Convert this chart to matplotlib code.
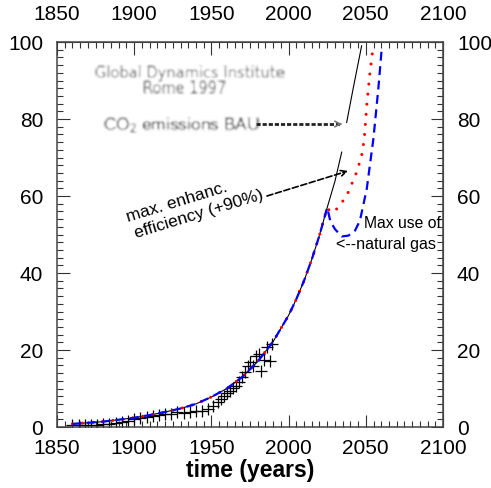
import numpy as np
import matplotlib
matplotlib.use('Agg')
import matplotlib.pyplot as plt
from matplotlib.ticker import FixedLocator

plt.rcParams['font.family'] = ['Liberation Sans', 'DejaVu Sans']
plt.rcParams['mathtext.default'] = 'regular'

# historical emissions (crosses)
hist_years = [1860, 1864, 1868, 1872, 1876, 1880, 1884, 1888, 1892, 1896,
              1900, 1904, 1908, 1912, 1916, 1920, 1924, 1928, 1932, 1936,
              1940, 1944, 1948, 1951, 1954, 1956, 1958, 1960, 1962, 1964,
              1966, 1968, 1970, 1972, 1974, 1975, 1977, 1979, 1981, 1982,
              1984, 1986, 1988, 1989]
hist_co2 = [0.4, 0.4, 0.5, 0.6, 0.6, 0.8, 0.9, 1.0, 1.2, 1.5,
            2.1, 2.3, 2.6, 2.8, 3.2, 3.3, 3.4, 3.8, 3.6, 4.0,
            4.2, 4.2, 4.8, 5.5, 6.5, 7.3, 8.1, 8.8, 9.4, 10.2,
            10.7, 11.8, 12.9, 14.2, 15.9, 16.9, 15.9, 18.5, 19.0, 14.6,
            17.5, 20.8, 17.2, 21.6]

# common model run up to 2025
base_years = [1860, 1870, 1880, 1890, 1900, 1910, 1920, 1930, 1940, 1950,
              1960, 1970, 1980, 1990, 2000, 2005, 2010, 2015, 2020, 2025]
base_co2 = [0.8, 1.1, 1.4, 1.9, 2.4, 3.1, 3.9, 4.8, 6.0, 7.8,
            10.0, 13.0, 17.0, 22.2, 29.0, 33.2, 38.0, 43.5, 49.8, 57.0]

# business as usual continuation
bau_years = [2030, 2034.4, np.nan, 2037.6, 2042, 2047.3]
bau_co2 = [63.8, 71.4, np.nan, 79.1, 88.3, 99.0]

# max. efficiency scenario
eff_years = [2027, 2029, 2033.3, 2038.7, 2044.1, 2047.3, 2049.0, 2050.6, 2052.7, 2054.2]
eff_co2 = [55.9, 55.8, 57.5, 61.0, 66.2, 70.5, 74.8, 83.5, 92.1, 96.9]

# max. natural gas scenario
gas_years = [2027, 2030.0, 2034.4, 2038.7, 2043, 2046.2, 2050.6, 2054.9, 2058.1, 2060.3]
gas_co2 = [53.5, 51.4, 49.5, 49.7, 51.0, 53.6, 61.8, 74.8, 87.8, 98.2]

year_major = [1850, 1900, 1950, 2000, 2050, 2100]
year_minor = list(range(1850, 2101, 5))
val_major = [0, 20, 40, 60, 80, 100]
val_minor = list(range(0, 101, 2))


def blur(radius):
    def f(im, dpi):
        pad = radius * 3
        a = np.pad(im, [(pad, pad), (pad, pad), (0, 0)], 'constant')
        for axis in (0, 1):
            for _ in range(2):
                acc = np.zeros_like(a)
                for s in range(-radius, radius + 1):
                    acc += np.roll(a, s, axis=axis)
                a = acc / (2 * radius + 1)
        return a, -pad, -pad
    return f


def style_ticks(axis_obj, major, minor):
    axis_obj.set_major_locator(FixedLocator(major))
    axis_obj.set_minor_locator(FixedLocator(minor))


fig = plt.figure(figsize=(4.91, 4.89), dpi=100)
ax = fig.add_axes([57 / 491, 1 - 428 / 489, 386 / 491, 385 / 489])

ax.plot(base_years + bau_years, base_co2 + bau_co2, color='black', lw=0.8, zorder=2)
ax.plot(hist_years, hist_co2, ls='none', marker='+', ms=8, mew=0.9, color='black', zorder=2)
ax.plot(base_years + eff_years, base_co2 + eff_co2, color='red', lw=2.2,
        ls=(0, (0.01, 3.3)), dash_capstyle='round', zorder=3)
ax.plot(base_years + gas_years, base_co2 + gas_co2, color='#0000ff', lw=1.6,
        ls=(0, (4, 2.5)), zorder=4)

ax.set_xlim(1850, 2100)
ax.set_ylim(0, 100)

for s in ax.spines.values():
    s.set_linewidth(1.1)
    s.set_color('#444444')

style_ticks(ax.xaxis, year_major, year_minor)
style_ticks(ax.yaxis, val_major, val_minor)
ax.tick_params(which='both', direction='in', color='#333333', width=0.8, labelsize=15)
ax.tick_params(which='major', length=9)
ax.tick_params(which='minor', length=4.5)
ax.tick_params(axis='x', pad=8)
ax.tick_params(axis='y', pad=10)

top = ax.secondary_xaxis('top')
style_ticks(top.xaxis, year_major, year_minor)
top.tick_params(which='both', direction='in', color='#333333', width=0.8, labelsize=15, pad=14)
top.tick_params(which='major', length=9)
top.tick_params(which='minor', length=4.5)
top.spines['top'].set_color('#444444')

right = ax.secondary_yaxis('right')
style_ticks(right.yaxis, val_major, val_minor)
right.tick_params(which='both', direction='in', color='#333333', width=0.8, labelsize=15, pad=10)
right.tick_params(which='major', length=9)
right.tick_params(which='minor', length=4.5)
right.spines['right'].set_color('#444444')

ax.set_xlabel('time (years)', fontsize=16.5, fontweight='bold', labelpad=1)

# institute stamp
t1 = ax.text(1936, 92, 'Global Dynamics Institute', ha='center', va='center',
             fontsize=10.5, color='#5a5a5a', family='DejaVu Sans')
t2 = ax.text(1933, 88.3, 'Rome 1997', ha='center', va='center',
             fontsize=10.5, color='#5a5a5a', family='DejaVu Sans')
for t in (t1, t2):
    t.set_agg_filter(blur(1))

co2 = ax.text(1880, 78.5, 'CO$_2$ emissions BAU', ha='left', va='center', fontsize=12.5,
              color='#1a1a1a')
co2.set_agg_filter(blur(1))
ax.plot([1979, 2033], [78.7, 78.7], color='#222222', lw=2, ls=(0, (1.5, 0.7)), zorder=2)
ax.annotate('', xy=(2036.5, 78.7), xytext=(2031, 78.7),
            arrowprops=dict(arrowstyle='->', color='#777777', lw=1.2))

ax.text(1896, 53.5, 'max. enhanc.', rotation=17, rotation_mode='anchor',
        ha='left', va='baseline', fontsize=12.5)
ax.text(1901.2, 49.4, 'efficiency (+90%)', rotation=17, rotation_mode='anchor',
        ha='left', va='baseline', fontsize=12.5)
ax.annotate('', xy=(2038.5, 66.5), xytext=(1986, 60),
            arrowprops=dict(arrowstyle='->', color='black', lw=1.2, ls='--',
                            shrinkA=0, shrinkB=0))

ax.text(2049.0, 52, 'Max use of', ha='left', va='baseline', fontsize=11.3, clip_on=True)
ax.text(2031.0, 46.5, '<--natural gas', ha='left', va='baseline', fontsize=11.6, clip_on=True)

fig.savefig('out.png', dpi=100)
